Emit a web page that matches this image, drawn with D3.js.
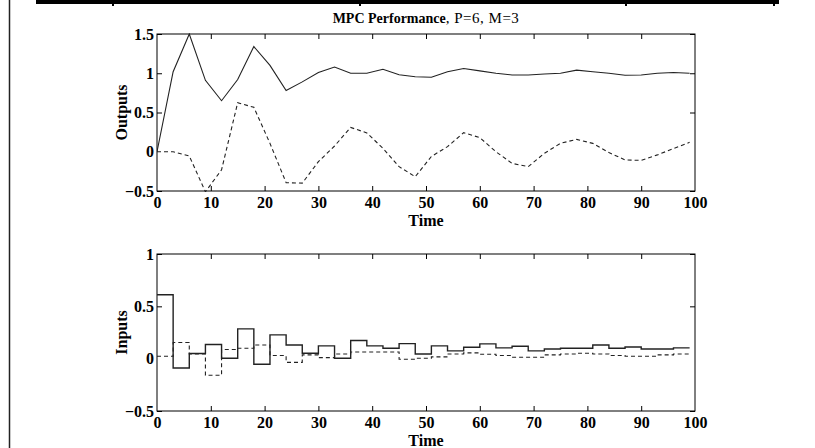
<!DOCTYPE html>
<meta charset="utf-8">
<script src="https://d3js.org/d3.v7.min.js"></script>
<style>
  body { margin: 0; background: #fff; }
  text { font-family: "Liberation Serif", "Times New Roman", serif; }
</style>
<body>
<div id="chart"></div>
<script>
// sample times (step of 3)
var time = d3.range(0, 100, 3);

// outputs
var y1 = [0, 1.02, 1.5, 0.91, 0.65, 0.92, 1.34, 1.1, 0.78, 0.89, 1.01, 1.08, 1.0, 1.0, 1.05, 0.98,
          0.956, 0.95, 1.02, 1.06, 1.03, 1.0, 0.978, 0.978, 0.99, 1.0, 1.04, 1.02, 1.0, 0.975, 0.978, 1.0, 1.01, 1.0];
var y2 = [0, 0, -0.054, -0.51, -0.23, 0.625, 0.566, 0.107, -0.394, -0.4, -0.126, 0.073, 0.31, 0.24, 0.044, -0.19,
          -0.318, -0.06, 0.065, 0.243, 0.18, 0, -0.148, -0.19, -0.02, 0.107, 0.158, 0.107, -0.01, -0.105, -0.11, -0.04, 0.04, 0.12];

// inputs (held over each step)
var u1 = [0.61, -0.089, 0.05, 0.135, 0.004, 0.285, -0.054, 0.227, 0.131, 0.052, 0.122, 0.004, 0.173, 0.122, 0.1, 0.144,
          0.045, 0.122, 0.074, 0.109, 0.141, 0.103, 0.119, 0.074, 0.093, 0.1, 0.1, 0.131, 0.1, 0.112, 0.093, 0.093, 0.103];
var u2 = [0.023, 0.154, 0.045, -0.159, 0.087, 0.1, 0.13, 0.03, -0.035, 0.036, 0.01, 0.045, 0.064, 0.064, 0.064, -0.006,
          0.004, 0.017, 0.045, 0.055, 0.042, 0.03, 0.013, 0.013, 0.036, 0.045, 0.052, 0.045, 0.03, 0.023, 0.023, 0.036, 0.045];

var xTicks = d3.range(0, 101, 10);
var yTicksTop = [-0.5, 0, 0.5, 1, 1.5];
var yTicksBottom = [-0.5, 0, 0.5, 1];

var W = 815, H = 448;
var svg = d3.select("#chart").append("svg")
  .attr("width", W).attr("height", H);

// page frame bits
svg.append("rect").attr("x", 36).attr("y", 0).attr("width", 743).attr("height", 4).attr("fill", "#000");
[112, 359, 625, 773].forEach(function(px) {
  svg.append("rect").attr("x", px).attr("y", 3).attr("width", 2).attr("height", 3).attr("fill", "#000");
});
svg.append("line").attr("x1", 9.5).attr("x2", 9.5).attr("y1", 0).attr("y2", H)
  .attr("stroke", "#222").attr("stroke-width", 1.5);

var left = 157, right = 695;

function panel(top, bottom, yDomain, yTicks, ylabel) {
  var x = d3.scaleLinear().domain([0, 100]).range([left, right]);
  var y = d3.scaleLinear().domain(yDomain).range([bottom, top]);
  var g = svg.append("g");

  var clipId = "clip" + top;
  svg.append("clipPath").attr("id", clipId).append("rect")
    .attr("x", left).attr("y", top - 1).attr("width", right - left).attr("height", bottom - top + 2);

  // axes with inward ticks
  var tl = 5;
  g.append("g").attr("transform", "translate(0," + bottom + ")")
    .call(d3.axisBottom(x).tickValues(xTicks).tickSizeInner(-tl).tickSizeOuter(0).tickPadding(6)
      .tickFormat(d3.format("d")));
  g.append("g").attr("transform", "translate(0," + top + ")")
    .call(d3.axisTop(x).tickValues(xTicks).tickSizeInner(-tl).tickSizeOuter(0).tickFormat(""));
  g.append("g").attr("transform", "translate(" + left + ",0)")
    .call(d3.axisLeft(y).tickValues(yTicks).tickSizeInner(-tl).tickSizeOuter(0).tickPadding(3)
      .tickFormat(function(d) { return d3.format("")(d); }));
  g.append("g").attr("transform", "translate(" + right + ",0)")
    .call(d3.axisRight(y).tickValues(yTicks).tickSizeInner(-tl).tickSizeOuter(0).tickFormat(""));
  g.selectAll(".domain").remove();
  g.selectAll(".tick line").attr("stroke", "#000");
  g.selectAll(".tick text").attr("font-size", 16).attr("font-weight", "bold").attr("fill", "#000")
    .style("font-family", '"Liberation Serif", serif');
  g.selectAll(".tick").filter(function(d) { return d === 0 || d === 100; }).select("line").remove();

  g.append("rect").attr("x", left).attr("y", top).attr("width", right - left).attr("height", bottom - top)
    .attr("fill", "none").attr("stroke", "#000").attr("stroke-width", 1);

  g.append("text").attr("x", (left + right) / 2).attr("y", bottom + 35)
    .attr("text-anchor", "middle").attr("font-size", 16).attr("font-weight", "bold").text("Time");
  g.append("text")
    .attr("transform", "translate(127," + (top + bottom) / 2 + ") rotate(-90)")
    .attr("text-anchor", "middle").attr("font-size", 16).attr("font-weight", "bold").text(ylabel);

  return { x: x, y: y, clip: "url(#" + clipId + ")" };
}

var p1 = panel(34, 191, [-0.5, 1.5], yTicksTop, "Outputs");
var p2 = panel(254, 411, [-0.5, 1], yTicksBottom, "Inputs");

// outputs
var lineTop = d3.line().x(function(d) { return p1.x(d[0]); }).y(function(d) { return p1.y(d[1]); });
svg.append("path").datum(d3.zip(time, y1)).attr("clip-path", p1.clip)
  .attr("fill", "none").attr("stroke", "#222").attr("stroke-width", 1.1).attr("d", lineTop);
svg.append("path").datum(d3.zip(time, y2)).attr("clip-path", p1.clip)
  .attr("fill", "none").attr("stroke", "#222").attr("stroke-width", 1.1)
  .attr("stroke-dasharray", "4,3").attr("d", lineTop);

// inputs as stairs
var lineBot = d3.line().curve(d3.curveStepAfter)
  .x(function(d) { return p2.x(d[0]); }).y(function(d) { return p2.y(d[1]); });
function stairs(u) {
  var pts = d3.zip(time.slice(0, u.length), u);
  pts.push([time[u.length], u[u.length - 1]]);
  return pts;
}
svg.append("path").datum(stairs(u1)).attr("clip-path", p2.clip)
  .attr("fill", "none").attr("stroke", "#222").attr("stroke-width", 1.4).attr("d", lineBot);
svg.append("path").datum(stairs(u2)).attr("clip-path", p2.clip)
  .attr("fill", "none").attr("stroke", "#222").attr("stroke-width", 1.1)
  .attr("stroke-dasharray", "4,3").attr("d", lineBot);

// title
var title = svg.append("text").attr("x", 426).attr("y", 23).attr("text-anchor", "middle");
title.append("tspan").attr("font-size", 14).attr("font-weight", "bold").text("MPC Performance");
title.append("tspan").attr("font-size", 15).attr("letter-spacing", 0.5).text(", P=6, M=3");
</script>
</body>
</html>
